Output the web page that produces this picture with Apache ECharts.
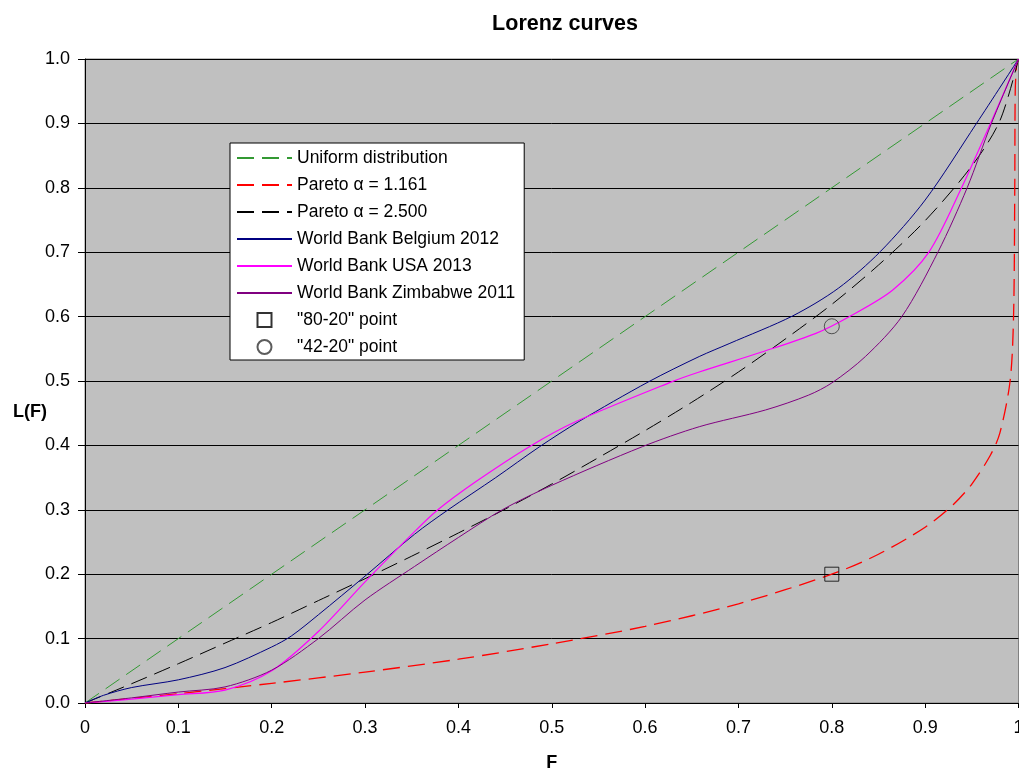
<!DOCTYPE html>
<html>
<head>
<meta charset="utf-8">
<script src="https://cdn.jsdelivr.net/npm/echarts@6/dist/echarts.min.js"></script>
<style>
html,body{margin:0;padding:0;background:#fff;}
#chart{width:1019px;height:770px;}
</style>
</head>
<body>
<div id="chart"></div>
<script>
const titleText = 'Lorenz curves';
const xTickLabels = ['0','0.1','0.2','0.3','0.4','0.5','0.6','0.7','0.8','0.9','1'];
const yTickLabels = ['0.0','0.1','0.2','0.3','0.4','0.5','0.6','0.7','0.8','0.9','1.0'];
const seriesNames = ['Uniform distribution','Pareto α = 1.161','Pareto α = 2.500',
  'World Bank Belgium 2012','World Bank USA 2013','World Bank Zimbabwe 2011',
  '"80-20" point','"42-20" point'];

const uniform = [[0,0],[1,1]];
const pareto1161 = [[0,0],[0.05,0.007],[0.1,0.0145],[0.2,0.0305],[0.3,0.048],[0.4,0.068],
  [0.5,0.092],[0.6,0.119],[0.7,0.154],[0.8,0.2],[0.85,0.231],[0.9,0.273],[0.93,0.308],
  [0.95,0.34],[0.97,0.385],[0.98,0.419],[0.991,0.5],[0.9947,0.6],[0.996,0.8],
  [0.9965,0.95],[0.998,0.99],[1,1]];
const pareto2500 = [[0,0],[0.05,0.030],[0.1,0.061],[0.15,0.093],[0.2,0.125],[0.25,0.159],
  [0.3,0.193],[0.35,0.228],[0.4,0.264],[0.45,0.301],[0.5,0.340],[0.55,0.381],[0.6,0.423],
  [0.65,0.467],[0.7,0.514],[0.75,0.565],[0.8,0.619],[0.85,0.680],[0.9,0.749],[0.95,0.834],
  [0.98,0.904],[1,1]];
const belgium = [[0,0],[0.02,0.012],[0.05,0.024],[0.1,0.036],[0.15,0.055],[0.2,0.087],
  [0.221,0.104],[0.25,0.137],[0.3,0.197],[0.353,0.262],[0.389,0.30],[0.44,0.35],
  [0.487,0.398],[0.529,0.437],[0.604,0.499],[0.658,0.538],[0.69,0.558],[0.758,0.601],
  [0.807,0.644],[0.852,0.701],[0.90,0.781],[0.955,0.90],[1,1]];
const usa = [[0,0],[0.05,0.006],[0.1,0.013],[0.15,0.02],[0.2,0.05],[0.25,0.111],[0.3,0.188],
  [0.353,0.266],[0.378,0.30],[0.42,0.345],[0.476,0.398],[0.526,0.437],[0.629,0.499],
  [0.658,0.514],[0.725,0.545],[0.783,0.574],[0.82,0.601],[0.865,0.641],[0.904,0.70],
  [0.939,0.80],[0.97,0.90],[1,1]];
const zimbabwe = [[0,0],[0.05,0.008],[0.1,0.017],[0.15,0.025],[0.2,0.051],[0.25,0.10],
  [0.3,0.16],[0.353,0.212],[0.4,0.257],[0.447,0.30],[0.5,0.338],[0.597,0.398],[0.658,0.429],
  [0.729,0.455],[0.775,0.478],[0.80,0.497],[0.836,0.538],[0.875,0.60],[0.914,0.701],
  [0.945,0.80],[0.971,0.90],[1,1]];
const point8020 = [[0.8,0.2]];
const point4220 = [[0.8,0.585]];

const FONT = 'Liberation Sans, Arial, sans-serif';
const dash = [17,8];
const SQUARE = 'path://M0,0L1,0L1,1L0,1Z';

const chart = echarts.init(document.getElementById('chart'), null, {renderer:'canvas'});

function lineSeries(name, data, color, type, smooth, width){
  return {
    name: name, type: 'line', data: data, symbol: 'none', showSymbol: false,
    smooth: smooth,
    lineStyle: {color: color, width: width || 1, type: type},
    itemStyle: {color: color},
    silent: true, animation: false, z: 3
  };
}

const legendData = seriesNames.map(function(n, i){
  if (i < 6) return {name: n, itemStyle: {opacity: 0}};
  if (i === 6) return {name: n, icon: SQUARE};
  return {name: n, icon: 'circle'};
});

const option = {
  animation: false,
  backgroundColor: '#ffffff',
  title: {
    text: titleText, left: 560, top: 8, textAlign: 'center',
    textStyle: {fontFamily: FONT, fontSize: 21.5, fontWeight: 'bold', color: '#000'}
  },
  grid: {
    left: 85, top: 59, right: 0.5, bottom: 67,
    show: true, backgroundColor: '#C0C0C0', borderColor: '#808080', borderWidth: 1,
    containLabel: false, outerBoundsMode: 'none'
  },
  legend: {
    orient: 'vertical', left: 230, top: 143,
    backgroundColor: '#ffffff', borderColor: '#000', borderWidth: 1,
    padding: [6, 9, 4, 6],
    itemWidth: 55, itemHeight: 14, itemGap: 9,
    symbolKeepAspect: true,
    textStyle: {fontFamily: FONT, fontSize: 17.5, color: '#000', lineHeight: 18},
    data: legendData
  },
  xAxis: {
    type: 'value', min: 0, max: 1, interval: 0.1,
    name: 'F', nameLocation: 'middle', nameGap: 51,
    nameTextStyle: {fontFamily: FONT, fontSize: 18, fontWeight: 'bold', color: '#000'},
    axisLine: {show: true, onZero: false, lineStyle: {color: '#000', width: 1}},
    axisTick: {show: true, inside: false, length: 5, lineStyle: {color: '#000'}},
    axisLabel: {
      margin: 16, fontFamily: FONT, fontSize: 18, color: '#000',
      showMaxLabel: true, showMinLabel: true,
      formatter: function(v){ return xTickLabels[Math.round(v*10)]; }
    },
    splitLine: {show: false}
  },
  yAxis: {
    type: 'value', min: 0, max: 1, interval: 0.1,
    axisLine: {show: true, onZero: false, lineStyle: {color: '#000', width: 1}},
    axisTick: {show: true, inside: false, length: 7, lineStyle: {color: '#000'}},
    axisLabel: {
      margin: 15, fontFamily: FONT, fontSize: 18, color: '#000',
      formatter: function(v){ return yTickLabels[Math.round(v*10)]; }
    },
    splitLine: {show: true, lineStyle: {color: '#000', width: 1}}
  },
  graphic: [{
    type: 'text', left: 13, top: 403,
    style: {text: 'L(F)', font: 'bold 18px ' + FONT, fill: '#000'}
  }],
  series: [
    lineSeries(seriesNames[0], uniform, '#339933', dash, false, 1),
    lineSeries(seriesNames[1], pareto1161, '#FF0000', dash, 0.3, 1.3),
    lineSeries(seriesNames[2], pareto2500, '#000000', dash, 0.3, 1),
    lineSeries(seriesNames[3], belgium, '#000080', 'solid', 0.3, 1),
    lineSeries(seriesNames[4], usa, '#FF00FF', 'solid', 0.3, 1.2),
    lineSeries(seriesNames[5], zimbabwe, '#800080', 'solid', 0.3, 1),
    {
      name: seriesNames[6], type: 'scatter', data: point8020, symbol: 'rect', symbolSize: 14,
      itemStyle: {color: 'rgba(0,0,0,0)', borderColor: '#000', borderWidth: 1}, z: 5
    },
    {
      name: seriesNames[7], type: 'scatter', data: point4220, symbol: 'circle', symbolSize: 15,
      itemStyle: {color: 'rgba(0,0,0,0)', borderColor: '#333', borderWidth: 1}, z: 5
    }
  ]
};
chart.setOption(option);
</script>
</body>
</html>
